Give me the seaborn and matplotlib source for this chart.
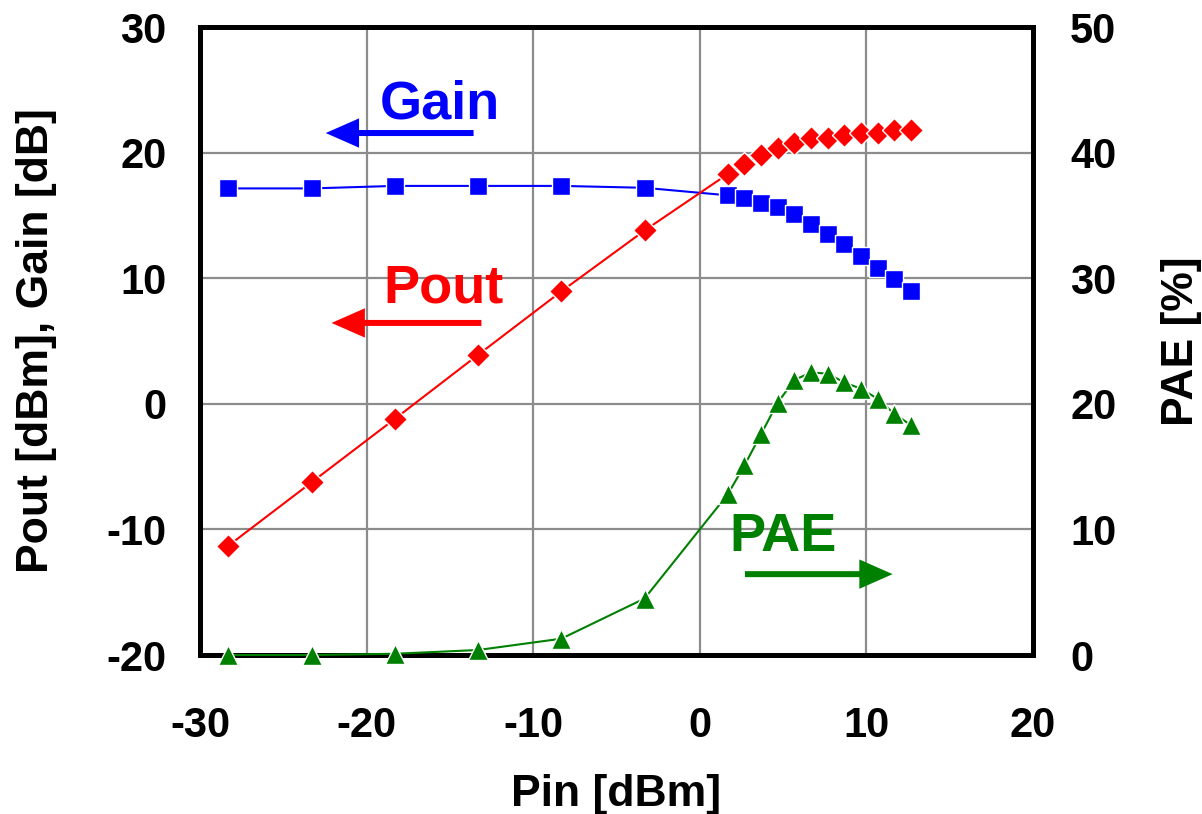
import matplotlib
matplotlib.use("Agg")
import matplotlib.pyplot as plt
import seaborn as sns
import pandas as pd

# ---- data ----
pin = [-28.3, -23.3, -18.3, -13.3, -8.3, -3.3, 1.7, 2.7, 3.7, 4.7, 5.7, 6.7,
       7.7, 8.7, 9.7, 10.7, 11.7, 12.7]
pout = [-11.3, -6.25, -1.2, 3.9, 8.95, 13.8, 18.3, 19.1, 19.8, 20.4, 20.8, 21.2,
        21.2, 21.4, 21.6, 21.6, 21.8, 21.8]
gain = [17.15, 17.15, 17.35, 17.35, 17.35, 17.2, 16.6, 16.4, 16.0, 15.7, 15.1, 14.3,
        13.5, 12.7, 11.75, 10.8, 9.95, 9.0]
pae = [0.0, 0.0, 0.1, 0.4, 1.3, 4.5, 12.8, 15.1, 17.6, 20.1, 21.9, 22.5,
       22.4, 21.7, 21.2, 20.4, 19.2, 18.3]

x_ticks = [-30, -20, -10, 0, 10, 20]
y_left_ticks = [-20, -10, 0, 10, 20, 30]
y_right_ticks = [0, 10, 20, 30, 40, 50]

df = pd.DataFrame({"Pin": pin, "Pout": pout, "Gain": gain, "PAE": pae})

sns.set_style("white")
plt.rcParams["font.family"] = ["Liberation Sans", "DejaVu Sans"]
plt.rcParams["font.weight"] = "bold"
plt.rcParams["axes.unicode_minus"] = False
for k in ("text.color", "axes.labelcolor", "xtick.color", "ytick.color"):
    plt.rcParams[k] = "black"

fig = plt.figure(figsize=(12.02, 8.14), dpi=100)
ax = fig.add_axes([0.1664, 0.1953, 0.6926, 0.7715])

BLUE = "#0000ff"
RED = "#ff0000"
GREEN = "#008000"

sns.lineplot(data=df, x="Pin", y="Gain", ax=ax, color=BLUE, lw=1.5,
             marker="s", markersize=12.5, markeredgecolor="white",
             markeredgewidth=1.0, zorder=3)
sns.lineplot(data=df, x="Pin", y="Pout", ax=ax, color=RED, lw=1.5,
             marker="D", markersize=12, markeredgecolor="white",
             markeredgewidth=1.0, zorder=3)

ax.set_xlim(-30, 20)
ax.set_ylim(-20, 30)
ax.set_xticks(x_ticks)
ax.set_yticks(y_left_ticks)
ax.grid(True, color="#8c8c8c", lw=1.6)
ax.set_axisbelow(True)

ax2 = ax.twinx()
sns.lineplot(data=df, x="Pin", y="PAE", ax=ax2, color=GREEN, lw=1.5,
             marker="^", markersize=15, markeredgecolor="white",
             markeredgewidth=1.0, zorder=3, clip_on=False)
ax2.set_ylim(0, 50)
ax2.set_yticks(y_right_ticks)
ax2.grid(False)

for a in (ax, ax2):
    for s in a.spines.values():
        s.set_linewidth(3.6)
        s.set_color("black")
    a.tick_params(length=0, labelsize=30, colors="black")

ax.tick_params(axis="y", pad=24)
ax.tick_params(axis="x", pad=37)
ax2.tick_params(axis="y", pad=27)
for lab in ax.get_xticklabels() + ax.get_yticklabels() + ax2.get_yticklabels():
    lab.set_fontweight("bold")

ax.set_xlabel("Pin [dBm]", fontsize=32, fontweight="bold", va="center", color="black")
ax.set_ylabel("Pout [dBm], Gain [dB]", fontsize=32, fontweight="bold", va="center", color="black")
ax2.set_ylabel("PAE [%]", fontsize=32, fontweight="bold", va="center", color="black")
ax.xaxis.set_label_coords(0.5, -0.222)
ax.yaxis.set_label_coords(-0.197, 0.5)
ax2.yaxis.set_label_coords(1.179, 0.5)

# ---- annotations with arrows ----
astyle = "simple,head_length=0.5,head_width=0.44,tail_width=0.09"

ax.text(-15.6, 22.7, "Gain", color=BLUE, fontsize=39, fontweight="bold",
        ha="center", va="baseline")
ax.annotate("", xy=(-22.45, 21.56), xytext=(-13.57, 21.56),
            arrowprops=dict(arrowstyle=astyle, color=BLUE, lw=0,
                            mutation_scale=48, shrinkA=0, shrinkB=0))

ax.text(-15.4, 8.04, "Pout", color=RED, fontsize=39, fontweight="bold",
        ha="center", va="baseline")
ax.annotate("", xy=(-22.1, 6.44), xytext=(-13.1, 6.44),
            arrowprops=dict(arrowstyle=astyle, color=RED, lw=0,
                            mutation_scale=48, shrinkA=0, shrinkB=0))

ax.text(5.0, -11.7, "PAE", color=GREEN, fontsize=39, fontweight="bold",
        ha="center", va="baseline")
ax.annotate("", xy=(11.6, -13.56), xytext=(2.73, -13.56),
            arrowprops=dict(arrowstyle=astyle, color=GREEN, lw=0,
                            mutation_scale=48, shrinkA=0, shrinkB=0))

fig.savefig("out.png", dpi=100)
